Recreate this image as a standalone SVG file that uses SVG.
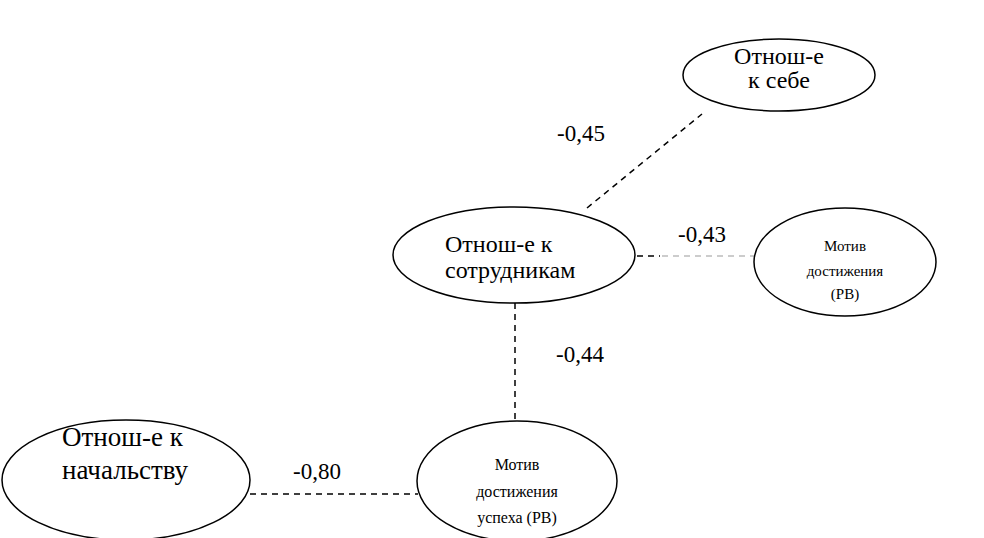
<svg xmlns="http://www.w3.org/2000/svg" width="984" height="538" viewBox="0 0 984 538">
<style>
.n{fill:#fff;stroke:#000;stroke-width:1.5}
.t{font-family:'Liberation Serif','Times New Roman',serif;fill:#000}
.c{stroke:#000;stroke-width:1.5;stroke-dasharray:6 5;fill:none}
.g{stroke:#999;stroke-width:1;stroke-dasharray:6 5;fill:none}
</style>
<rect width="984" height="538" fill="#fff"/>
<g id="connectors">
<line class="c" x1="587" y1="208" x2="702" y2="114"/>
<line class="c" x1="637" y1="256" x2="660" y2="256"/>
<line class="g" x1="662" y1="256" x2="754" y2="256"/>
<line class="c" x1="515" y1="303" x2="515" y2="421"/>
<line class="c" x1="250" y1="494" x2="418" y2="494"/>
<text class="t" x="557" y="141" font-size="23">-0,45</text>
<text class="t" x="678" y="242" font-size="23">-0,43</text>
<text class="t" x="556" y="362" font-size="23">-0,44</text>
<text class="t" x="293" y="479" font-size="23">-0,80</text>
</g>
<g id="self">
<ellipse class="n" cx="779" cy="75" rx="96" ry="36"/>
<text class="t" x="779" y="64" font-size="24" text-anchor="middle">Отнош-е</text>
<text class="t" x="779" y="88" font-size="24" text-anchor="middle">к себе</text>
</g>
<g id="colleagues">
<ellipse class="n" cx="514" cy="255" rx="121" ry="48"/>
<text class="t" x="445" y="252" font-size="24">Отнош-е к</text>
<text class="t" x="445" y="278" font-size="24">сотрудникам</text>
</g>
<g id="motive">
<ellipse class="n" cx="845" cy="262" rx="91" ry="54"/>
<text class="t" x="845" y="251" font-size="15" text-anchor="middle">Мотив</text>
<text class="t" x="845" y="276" font-size="15" text-anchor="middle">достижения</text>
<text class="t" x="845" y="299" font-size="15" text-anchor="middle">(РВ)</text>
</g>
<g id="boss">
<ellipse class="n" cx="126" cy="480" rx="124" ry="60"/>
<text class="t" x="62" y="446" font-size="27">Отнош-е к</text>
<text class="t" x="62" y="479" font-size="27">начальству</text>
</g>
<g id="success">
<ellipse class="n" cx="517" cy="481" rx="100" ry="60"/>
<text class="t" x="517" y="470" font-size="16" text-anchor="middle">Мотив</text>
<text class="t" x="517" y="497" font-size="16" text-anchor="middle">достижения</text>
<text class="t" x="517" y="523" font-size="16" text-anchor="middle">успеха (РВ)</text>
</g>
</svg>
